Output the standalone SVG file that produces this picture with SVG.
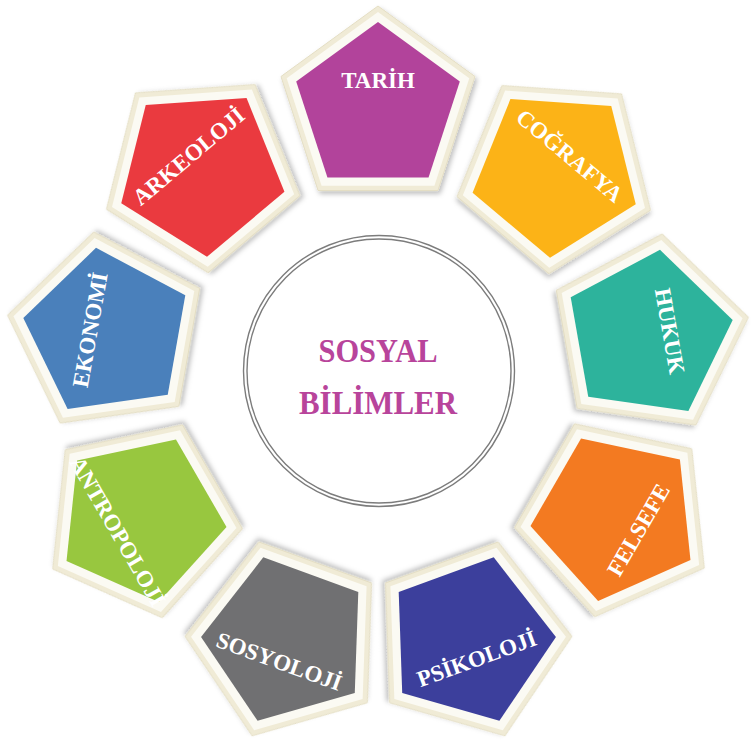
<svg xmlns="http://www.w3.org/2000/svg" width="751" height="741" viewBox="0 0 751 741">
<style>
.lbl{font-family:"Liberation Serif","Times New Roman",serif;font-weight:bold;font-size:23px;fill:#ffffff;text-anchor:middle}
.ctr{font-family:"Liberation Serif","Times New Roman",serif;font-weight:bold;font-size:34px;fill:#b8449b;text-anchor:middle}
.frame{fill:#f0ebd6;stroke:#e4dec4;stroke-width:1}
.band{fill:#fbfaf3}
</style>
<defs>
<filter id="sh" x="-20%" y="-20%" width="140%" height="140%">
<feDropShadow dx="2" dy="3" stdDeviation="2.5" flood-color="#000" flood-opacity="0.25"/>
</filter>
<polygon id="po" points="0,-102 97.01,-31.52 59.95,82.52 -59.95,82.52 -97.01,-31.52"/>
<polygon id="pm" points="0,-96 91.3,-29.67 56.43,77.67 -56.43,77.67 -91.3,-29.67"/>
<polygon id="pi" points="0,-86 81.79,-26.58 50.55,69.57 -50.55,69.57 -81.79,-26.58"/>
</defs>
<rect width="751" height="741" fill="#ffffff"/>

<g id="center">
<circle cx="379" cy="371" r="135.5" fill="#ffffff" stroke="#7c7c7c" stroke-width="1.4"/>
<circle cx="379" cy="371" r="132" fill="none" stroke="#7c7c7c" stroke-width="1.4"/>
<text class="ctr" x="378" y="362" textLength="119" lengthAdjust="spacingAndGlyphs">SOSYAL</text>
<text class="ctr" x="378" y="414" textLength="158" lengthAdjust="spacingAndGlyphs">BİLİMLER</text>
</g>

<g id="connectors"></g>

<g id="tarih" transform="translate(378,108) rotate(0)">
<use href="#po" class="frame" filter="url(#sh)"/><use href="#pm" class="band"/><use href="#pi" fill="#b2439b"/>
<text class="lbl" x="0" y="-20">TARİH</text>
</g>

<g id="cografya" transform="translate(556,172) rotate(40)">
<use href="#po" class="frame" filter="url(#sh)"/><use href="#pm" class="band"/><use href="#pi" fill="#fcb317"/>
<text class="lbl" x="0" y="-13.5">COĞRAFYA</text>
</g>

<g id="hukuk" transform="translate(648,335) rotate(80)">
<use href="#po" class="frame" filter="url(#sh)"/><use href="#pm" class="band"/><use href="#pi" fill="#2db39c"/>
<text class="lbl" x="0" y="-14.5">HUKUK</text>
</g>

<g id="felsefe" transform="translate(616,517) rotate(120)">
<use href="#po" class="frame" filter="url(#sh)"/><use href="#pm" class="band"/><use href="#pi" fill="#f37a21"/>
<text class="lbl" x="0" y="-18.5" transform="rotate(180 0 -26)">FELSEFE</text>
</g>

<g id="psikoloji" transform="translate(470,640) rotate(160)">
<use href="#po" class="frame" filter="url(#sh)"/><use href="#pm" class="band"/><use href="#pi" fill="#3c3f9c"/>
<text class="lbl" x="0" y="-12.5" transform="rotate(180 0 -20)">PSİKOLOJİ</text>
</g>

<g id="sosyoloji" transform="translate(287,640) rotate(200)">
<use href="#po" class="frame" filter="url(#sh)"/><use href="#pm" class="band"/><use href="#pi" fill="#707072"/>
<text class="lbl" x="0" y="-15.5" transform="rotate(180 0 -23)">SOSYOLOJİ</text>
</g>

<g id="antropoloji" transform="translate(141,518) rotate(240)">
<use href="#po" class="frame" filter="url(#sh)"/><use href="#pm" class="band"/><use href="#pi" fill="#98c73f"/>
<text class="lbl" x="0" y="-19.5" transform="rotate(180 0 -27)">ANTROPOLOJİ</text>
</g>

<g id="ekonomi" transform="translate(108,333) rotate(280)">
<use href="#po" class="frame" filter="url(#sh)"/><use href="#pm" class="band"/><use href="#pi" fill="#4a80bb"/>
<text class="lbl" x="0" y="-10.5">EKONOMİ</text>
</g>

<g id="arkeoloji" transform="translate(201,171) rotate(320)">
<use href="#po" class="frame" filter="url(#sh)"/><use href="#pm" class="band"/><use href="#pi" fill="#ea3a3f"/>
<text class="lbl" x="0" y="-11.5">ARKEOLOJİ</text>
</g>
</svg>
